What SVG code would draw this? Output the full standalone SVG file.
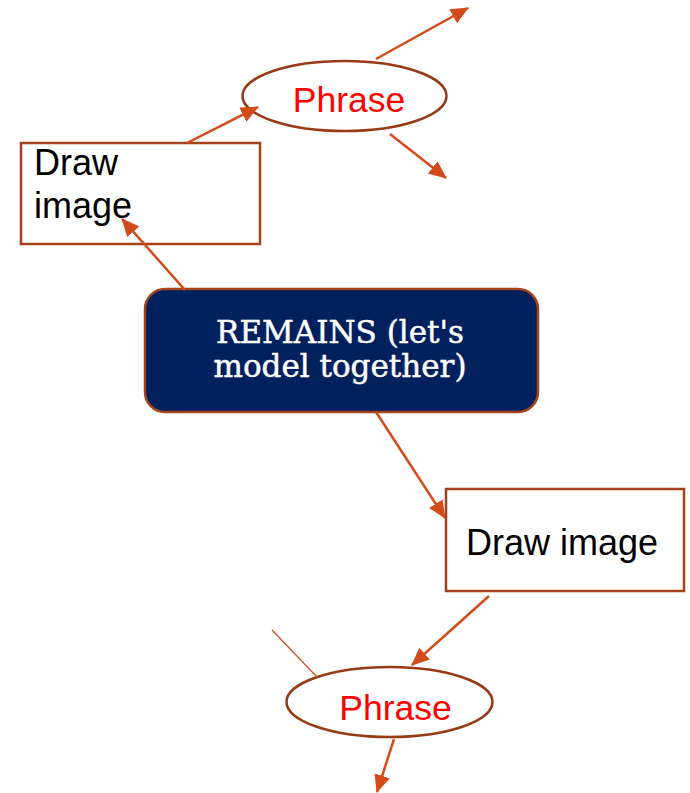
<svg xmlns="http://www.w3.org/2000/svg" width="690" height="793" viewBox="0 0 690 793">
<style>
.box{fill:#fff;stroke:#a3421c;stroke-width:2.5}
.ell{fill:#fff;stroke:#973a16;stroke-width:2.5}
.main{fill:#00215e;stroke:#a3421c;stroke-width:2.5}
.lbl{font-family:"Liberation Sans",Arial,sans-serif;font-size:36px;fill:#000}
.red{font-family:"Liberation Sans",Arial,sans-serif;font-size:35.5px;fill:#ff0000}
.mt{font-family:"DejaVu Serif",serif;font-size:31px;fill:#fff;stroke:#fff;stroke-width:0.5}
.c{stroke:#d34b19;stroke-width:2.5;fill:none}
</style>
<defs>
<marker id="ah" markerUnits="userSpaceOnUse" markerWidth="18" markerHeight="16" refX="17" refY="8" orient="auto">
<path d="M0,0 L18,8 L0,16 Z" fill="#d34b19"/>
</marker>
</defs>
<g id="phrase-top">
<ellipse class="ell" cx="344.5" cy="96" rx="102" ry="35"/>
<text class="red" x="349" y="112" text-anchor="middle">Phrase</text>
</g>
<g id="draw-left">
<rect class="box" x="21" y="143" width="239" height="101"/>
<text class="lbl" x="34" y="175">Draw</text>
<text class="lbl" x="34" y="218">image</text>
</g>
<g id="remains">
<rect class="main" x="145" y="289" width="393" height="123" rx="20" ry="20"/>
<text class="mt" x="340" y="343" text-anchor="middle">REMAINS (let's</text>
<text class="mt" x="340" y="377" text-anchor="middle">model together)</text>
</g>
<g id="draw-right">
<rect class="box" x="446" y="489" width="238" height="102"/>
<text class="lbl" x="562" y="555" text-anchor="middle">Draw image</text>
</g>
<g id="phrase-bottom">
<ellipse class="ell" cx="389.5" cy="702" rx="103" ry="35"/>
<text class="red" x="395.5" y="720" text-anchor="middle">Phrase</text>
</g>
<g id="connectors">
<line class="c" x1="187" y1="143" x2="258" y2="107" marker-end="url(#ah)"/>
<line class="c" x1="376" y1="59" x2="468" y2="8" marker-end="url(#ah)"/>
<line class="c" x1="390" y1="134" x2="446" y2="178" marker-end="url(#ah)"/>
<line class="c" x1="185" y1="290" x2="122" y2="219" marker-end="url(#ah)"/>
<line class="c" x1="376" y1="412" x2="445" y2="518" marker-end="url(#ah)"/>
<line class="c" x1="489" y1="596" x2="412" y2="665" marker-end="url(#ah)"/>
<line class="c" x1="394" y1="739" x2="377" y2="792" marker-end="url(#ah)"/>
<line x1="272" y1="630" x2="317" y2="677" stroke="#d34b19" stroke-width="1.2"/>
</g>
</svg>
